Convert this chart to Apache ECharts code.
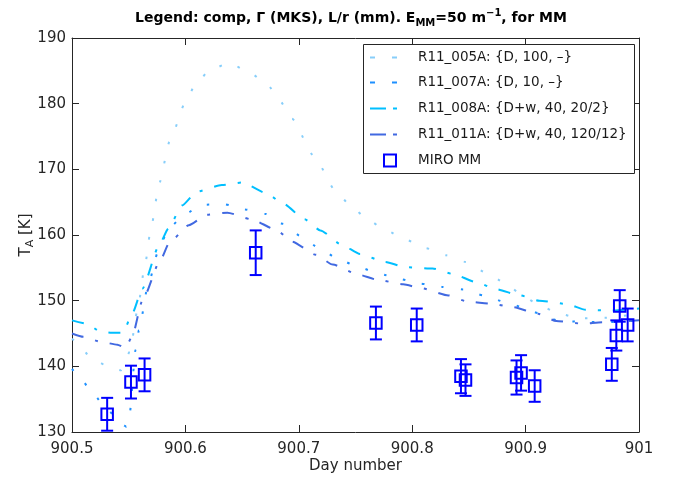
<!DOCTYPE html>
<html>
<head>
<meta charset="utf-8">
<script src="https://cdn.jsdelivr.net/npm/echarts@6/dist/echarts.min.js"></script>
<style>html,body{margin:0;padding:0;background:#fff;}#c{width:676px;height:479px;}</style>
</head>
<body>
<div id="c"></div>
<script>
// ---- data ----
const xTicks = [900.5, 900.6, 900.7, 900.8, 900.9, 901];
const yTicks = [130, 140, 150, 160, 170, 180, 190];

const seriesNames = ['R11_005A: {D, 100, \u2013}', 'R11_007A: {D, 10, \u2013}', 'R11_008A: {D+w, 40, 20/2}', 'R11_011A: {D+w, 40, 120/12}'];
const miroName = 'MIRO MM';

const r005x = [900.5, 900.505, 900.517, 900.535, 900.543, 900.551, 900.558, 900.564, 900.570, 900.577, 900.586, 900.600, 900.609, 900.622, 900.639, 900.656, 900.672, 900.683, 900.694, 900.713, 900.733, 900.746, 900.761, 900.777, 900.794, 900.812, 900.830, 900.847, 900.865, 900.881, 900.898, 900.912, 900.930, 900.948, 900.970, 901];
const r005y = [144.2, 143.6, 141.2, 139.7, 139.4, 142.2, 148.8, 155.1, 161.4, 167.9, 174.2, 180.2, 183.0, 185.2, 186.2, 184.8, 183.0, 180.5, 177.7, 172.1, 166.6, 164.4, 162.3, 160.7, 159.3, 158.0, 156.9, 155.9, 154.3, 152.8, 150.7, 149.3, 148.0, 147.3, 147.4, 148.0];

const r007x = [900.5, 900.507, 900.519, 900.532, 900.545, 900.548, 900.551, 900.556, 900.559, 900.567, 900.576, 900.585, 900.600, 900.614, 900.634, 900.652, 900.671, 900.686, 900.702, 900.718, 900.735, 900.753, 900.771, 900.789, 900.807, 900.826, 900.845, 900.863, 900.882, 900.899, 900.911, 900.930, 900.948, 900.968, 901];
const r007y = [139.6, 138.3, 135.7, 133.2, 131.1, 130.8, 133.0, 142.5, 145.5, 152.3, 157.5, 161.0, 163.2, 164.6, 164.7, 163.9, 163.2, 161.7, 159.8, 158.0, 156.3, 155.1, 154.1, 153.3, 152.6, 152.1, 151.7, 150.8, 149.8, 148.9, 148.1, 146.9, 146.8, 146.7, 147.0];

const r008x = [900.5, 900.513, 900.525, 900.535, 900.545, 900.553, 900.562, 900.577, 900.585, 900.597, 900.610, 900.632, 900.650, 900.671, 900.686, 900.705, 900.719, 900.738, 900.754, 900.776, 900.794, 900.818, 900.835, 900.857, 900.873, 900.895, 900.912, 900.936, 900.953, 900.975, 901];
const r008y = [147.0, 146.5, 145.3, 145.1, 145.1, 148.0, 151.8, 158.5, 161.0, 164.5, 166.6, 167.6, 168.0, 166.4, 164.8, 162.4, 160.7, 158.5, 157.1, 155.9, 155.1, 154.9, 154.1, 152.8, 151.8, 150.8, 150.0, 149.5, 148.6, 148.5, 148.8];

const r011x = [900.5, 900.510, 900.526, 900.540, 900.547, 900.553, 900.562, 900.578, 900.586, 900.603, 900.619, 900.637, 900.658, 900.680, 900.694, 900.715, 900.730, 900.752, 900.769, 900.792, 900.808, 900.832, 900.848, 900.871, 900.889, 900.911, 900.927, 900.950, 900.968, 901];
const r011y = [145.0, 144.5, 143.7, 143.3, 142.8, 144.5, 150.0, 156.2, 158.9, 161.5, 163.1, 163.4, 162.4, 160.8, 159.0, 157.0, 155.5, 154.0, 153.2, 152.5, 151.9, 150.8, 149.9, 149.5, 149.0, 148.0, 146.9, 146.5, 146.7, 147.0];

const miroX = [900.531, 900.552, 900.564, 900.662, 900.768, 900.804, 900.843, 900.847, 900.892, 900.896, 900.908, 900.976, 900.980, 900.983, 900.990];
const miroY = [132.7, 137.6, 138.7, 157.3, 146.6, 146.3, 138.5, 137.9, 138.3, 139.0, 137.0, 140.3, 144.7, 149.2, 146.3];
const miroErr = [2.5, 2.5, 2.5, 3.4, 2.5, 2.5, 2.6, 2.4, 2.6, 2.7, 2.4, 2.5, 2.3, 2.4, 2.5];

// ---- chart ----
const FONT = 'DejaVu Sans';
const zip = (xs, ys) => xs.map((x, i) => [x, ys[i]]);
const lineColors = ['#87CEFA', '#1E90FF', '#00BFFF', '#4169E1'];
const lineDashes = [[2.5, 17], [2.5, 17], [12, 12, 3, 12], [12, 12, 3, 12]];
const legendDashes = [[5, 17, 5], [5, 17, 5], [16, 7, 4], [16, 7, 4]];
const lineData = [zip(r005x, r005y), zip(r007x, r007y), zip(r008x, r008y), zip(r011x, r011y)];
const errData = miroX.map((x, i) => [x, miroY[i] - miroErr[i], miroY[i] + miroErr[i]]);
const MIRO_COLOR = '#0000FF';

const chart = echarts.init(document.getElementById('c'), null, {renderer: 'canvas'});
const axisColor = '#262626';

const lineSeries = seriesNames.map((n, k) => ({
  name: n, type: 'line', data: lineData[k], showSymbol: false, symbol: 'none',
  smooth: 0.2, smoothMonotone: 'x',
  lineStyle: {color: lineColors[k], width: 2, type: lineDashes[k], cap: 'butt'},
  itemStyle: {color: lineColors[k]}, z: 3, clip: true
}));

// manual legend (box, dashed samples, texts)
const LEG = {x: 363, y: 44, w: 271, h: 129, sx0: 370, sx1: 397, tx: 418, row0: 56.5, dy: 25.8};
const LEG_FONT = 13.5;
const legendGraphics = [{
  type: 'rect', shape: {x: LEG.x + 0.5, y: LEG.y + 0.5, width: LEG.w, height: LEG.h},
  style: {fill: '#fff', stroke: axisColor, lineWidth: 1}, z: 100, silent: true
}];
seriesNames.forEach((n, k) => {
  const y = Math.round(LEG.row0 + k * LEG.dy) + 0.5;
  legendGraphics.push({type: 'line', z: 101, silent: true,
    shape: {x1: LEG.sx0, y1: y, x2: LEG.sx1, y2: y},
    style: {stroke: lineColors[k], lineWidth: 2, lineDash: legendDashes[k]}});
  legendGraphics.push({type: 'text', z: 101, silent: true, x: LEG.tx, y: y,
    style: {text: n, fontFamily: FONT, fontSize: LEG_FONT, fill: '#1a1a1a', verticalAlign: 'middle', align: 'left'}});
});
{
  const y = Math.round(LEG.row0 + 4 * LEG.dy) + 0.5;
  legendGraphics.push({type: 'rect', z: 101, silent: true,
    shape: {x: 384, y: y - 6, width: 12, height: 12},
    style: {fill: 'none', stroke: MIRO_COLOR, lineWidth: 2}});
  legendGraphics.push({type: 'text', z: 101, silent: true, x: LEG.tx, y: y,
    style: {text: miroName, fontFamily: FONT, fontSize: LEG_FONT, fill: '#1a1a1a', verticalAlign: 'middle', align: 'left'}});
}

const option = {
  animation: false,
  backgroundColor: '#fff',
  title: {
    text: '{a|Legend: comp, \u0393 (MKS), L/r (mm). E}{s|MM}{a|=50 m}{p|\u22121}{a|, for MM}',
    left: 346, top: 3, textAlign: 'center',
    textStyle: {
      rich: {
        a: {fontFamily: FONT, fontSize: 14, fontWeight: 'bold', color: '#000', lineHeight: 20},
        s: {fontFamily: FONT, fontSize: 10, fontWeight: 'bold', color: '#000', lineHeight: 10, verticalAlign: 'bottom'},
        p: {fontFamily: FONT, fontSize: 10, fontWeight: 'bold', color: '#000', lineHeight: 10, verticalAlign: 'top'}
      }
    }
  },
  grid: {left: 72, right: 37, top: 38, bottom: 45},
  graphic: legendGraphics,
  xAxis: [{
    type: 'value', min: xTicks[0], max: xTicks[xTicks.length - 1], interval: 0.1,
    name: 'Day number', nameLocation: 'middle', nameGap: 27, nameMoveOverlap: false,
    nameTextStyle: {fontFamily: FONT, fontSize: 15, color: axisColor},
    axisLine: {show: true, onZero: false, lineStyle: {color: axisColor, width: 1}},
    axisTick: {show: true, inside: true, length: 7, lineStyle: {color: axisColor}},
    axisLabel: {fontFamily: FONT, fontSize: 15, color: axisColor, margin: 10,
      formatter: v => String(Math.round(v * 10) / 10)},
    splitLine: {show: false}
  }, {
    type: 'value', position: 'top', min: xTicks[0], max: xTicks[xTicks.length - 1], interval: 0.1,
    axisLine: {show: true, onZero: false, lineStyle: {color: axisColor, width: 1}},
    axisTick: {show: true, inside: true, length: 7, lineStyle: {color: axisColor}},
    axisLabel: {show: false}, splitLine: {show: false}
  }],
  yAxis: [{
    type: 'value', min: yTicks[0], max: yTicks[yTicks.length - 1], interval: 10,
    name: '{a|T}{s|A}{a| [K]}', nameLocation: 'middle', nameGap: 36, nameRotate: 90, nameMoveOverlap: false,
    nameTextStyle: {
      rich: {
        a: {fontFamily: FONT, fontSize: 15, color: axisColor, lineHeight: 20},
        s: {fontFamily: FONT, fontSize: 11, color: axisColor, lineHeight: 10, verticalAlign: 'bottom'}
      }
    },
    axisLine: {show: true, onZero: false, lineStyle: {color: axisColor, width: 1}},
    axisTick: {show: true, inside: true, length: 7, lineStyle: {color: axisColor}},
    axisLabel: {fontFamily: FONT, fontSize: 15, color: axisColor, margin: 6},
    splitLine: {show: false}
  }, {
    type: 'value', position: 'right', min: yTicks[0], max: yTicks[yTicks.length - 1], interval: 10,
    axisLine: {show: true, onZero: false, lineStyle: {color: axisColor, width: 1}},
    axisTick: {show: true, inside: true, length: 7, lineStyle: {color: axisColor}},
    axisLabel: {show: false}, splitLine: {show: false}
  }],
  series: lineSeries.concat([
    {
      name: miroName + ' err', type: 'custom', data: errData, z: 4,
      encode: {x: 0, y: [1, 2]},
      renderItem: function (params, api) {
        const x = api.value(0), lo = api.value(1), hi = api.value(2);
        const a = api.coord([x, lo]), b = api.coord([x, hi]);
        const hw = 6;
        const st = {stroke: MIRO_COLOR, lineWidth: 2};
        return {type: 'group', children: [
          {type: 'line', shape: {x1: a[0], y1: a[1], x2: b[0], y2: b[1]}, style: st},
          {type: 'line', shape: {x1: a[0] - hw, y1: a[1], x2: a[0] + hw, y2: a[1]}, style: st},
          {type: 'line', shape: {x1: b[0] - hw, y1: b[1], x2: b[0] + hw, y2: b[1]}, style: st}
        ]};
      }
    },
    {
      name: miroName, type: 'scatter', data: zip(miroX, miroY), z: 5,
      symbol: 'rect', symbolSize: 11.5,
      itemStyle: {color: 'rgba(0,0,0,0)', borderColor: MIRO_COLOR, borderWidth: 2, opacity: 1}
    }
  ])
};
chart.setOption(option);
</script>
</body>
</html>
